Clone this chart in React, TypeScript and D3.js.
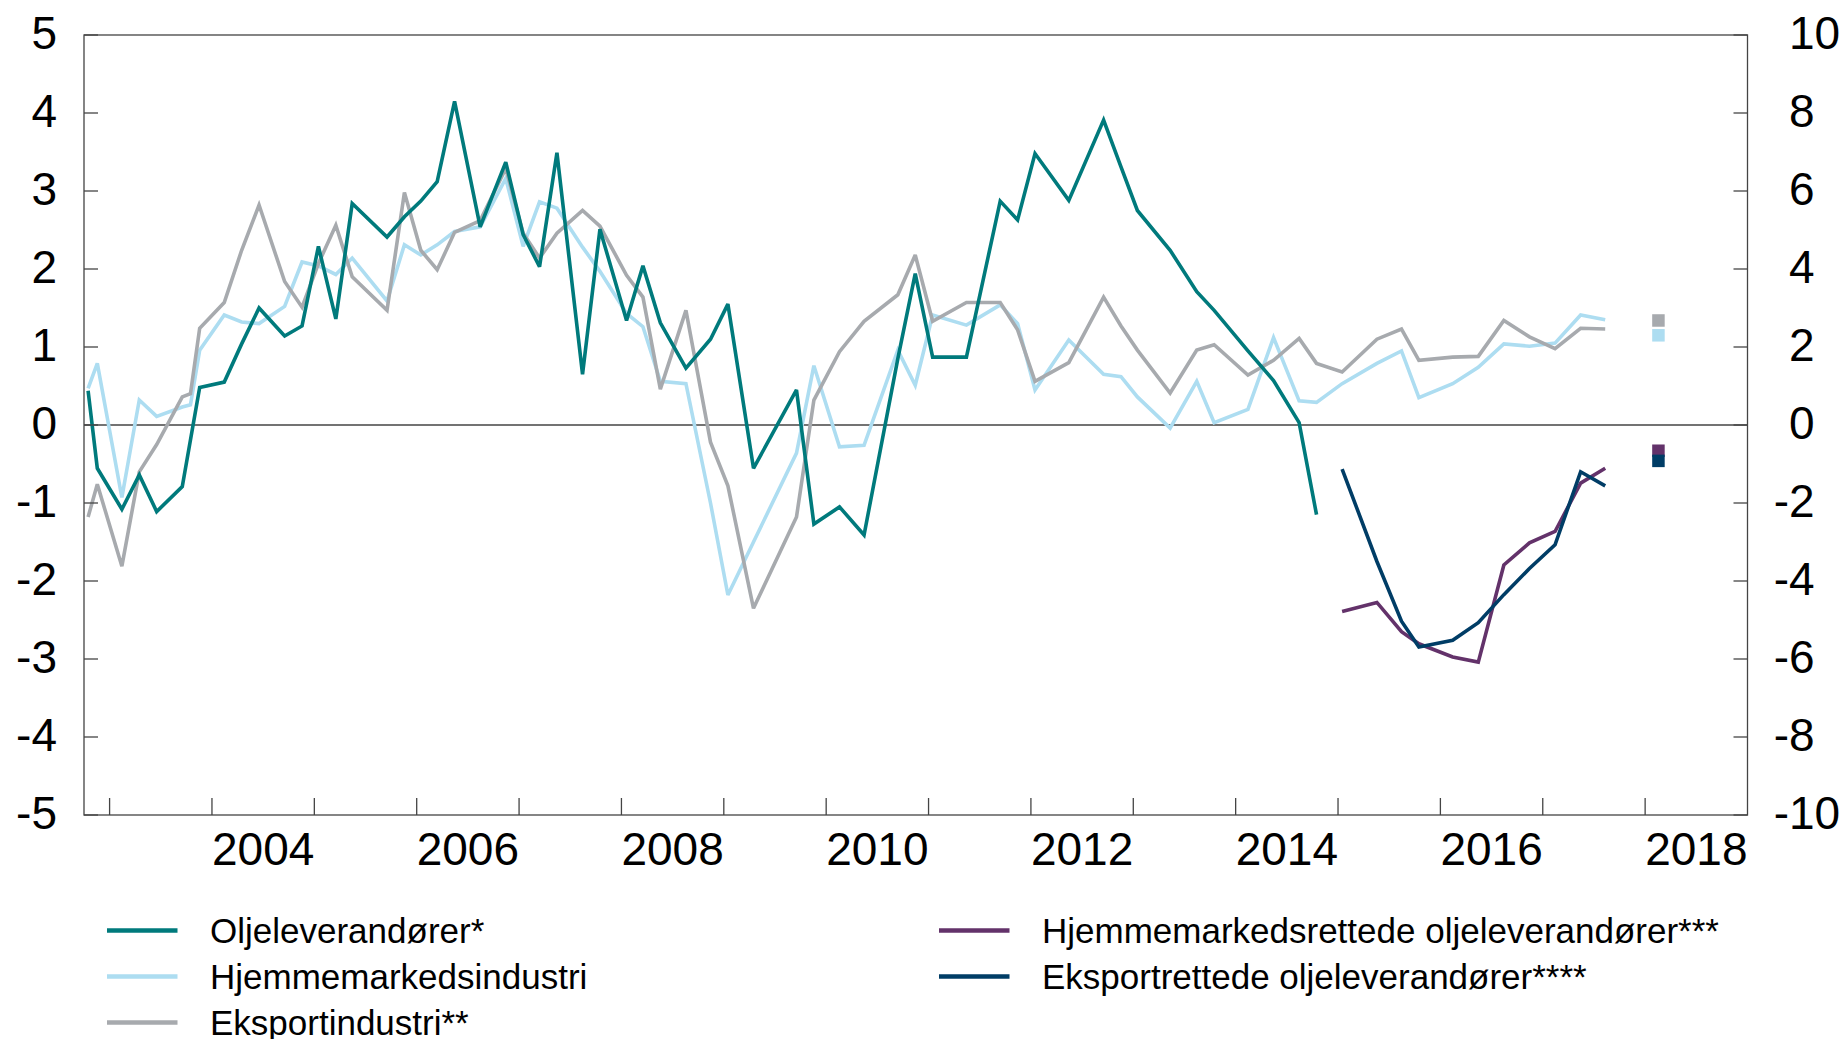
import React from 'react';
import * as d3 from 'd3';

// Survey dates (decimal years)
const dates = [
  2002.79, 2002.88, 2003.12, 2003.29, 2003.46, 2003.71, 2003.79, 2003.88,
  2004.12, 2004.29, 2004.46, 2004.71, 2004.88, 2005.04, 2005.21, 2005.37,
  2005.71, 2005.88, 2006.04, 2006.2, 2006.37, 2006.62, 2006.87, 2007.04,
  2007.2, 2007.37, 2007.62, 2007.79, 2008.05, 2008.21, 2008.38, 2008.63,
  2008.87, 2009.04, 2009.29, 2009.71, 2009.88, 2010.13, 2010.37, 2010.7,
  2010.87, 2011.04, 2011.37, 2011.7, 2011.87, 2012.04, 2012.37, 2012.71,
  2012.88, 2013.04, 2013.36, 2013.62, 2013.79, 2014.12, 2014.37, 2014.62,
  2014.79, 2015.04, 2015.38, 2015.62, 2015.79, 2016.12, 2016.37, 2016.62,
  2016.87, 2017.12, 2017.37, 2017.61,
];

// Left axis series
const oljeleverandorer: (number | null)[] = [
  0.44, -0.555, -1.08, -0.64, -1.11, -0.79, null, 0.48,
  0.55, 1.04, 1.5, 1.14, 1.27, 2.29, 1.36, 2.84,
  2.41, 2.67, 2.87, 3.12, 4.15, 2.54, 3.37, 2.44,
  2.03, 3.49, 0.65, 2.51, 1.34, 2.04, 1.31, 0.73,
  1.1, 1.55, -0.555, 0.45, -1.27, -1.05, -1.41, 0.85,
  1.94, 0.87, 0.87, 2.87, 2.63, 3.48, 2.88, 3.91,
  3.31, 2.75, 2.24, 1.71, 1.47, 0.95, 0.57, 0.03,
  -1.15, null, null, null, null, null, null, null,
  null, null, null, null,
];
const hjemmemarkedsindustri: (number | null)[] = [
  0.47, 0.79, -0.93, 0.32, 0.11, 0.23, 0.26, 0.96,
  1.41, 1.32, 1.3, 1.52, 2.09, 2.04, 1.93, 2.14,
  1.59, 2.31, 2.18, 2.31, 2.48, 2.54, 3.16, 2.29,
  2.86, 2.78, 2.28, 1.97, 1.43, 1.26, 0.56, 0.53,
  -1.0, -2.18, -1.5, -0.36, 0.76, -0.28, -0.26, 0.96,
  0.51, 1.41, 1.28, 1.54, 1.3, 0.45, 1.09, 0.65,
  0.62, 0.36, -0.04, 0.56, 0.03, 0.2, 1.12, 0.31,
  0.29, 0.53, 0.79, 0.95, 0.35, 0.53, 0.74, 1.04,
  1.01, 1.05, 1.41, 1.35,
];
const eksportindustri: (number | null)[] = [
  -1.18, -0.76, -1.81, -0.6, -0.25, 0.36, 0.4, 1.24,
  1.57, 2.24, 2.82, 1.84, 1.51, 2.07, 2.56, 1.9,
  1.47, 2.98, 2.24, 1.99, 2.47, 2.62, 3.29, 2.46,
  2.14, 2.46, 2.75, 2.55, 1.92, 1.64, 0.46, 1.47,
  -0.22, -0.78, -2.35, -1.18, 0.32, 0.94, 1.33, 1.67,
  2.18, 1.33, 1.57, 1.57, 1.22, 0.56, 0.8, 1.64,
  1.27, 0.96, 0.41, 0.96, 1.03, 0.64, 0.83, 1.11,
  0.79, 0.68, 1.1, 1.23, 0.83, 0.87, 0.88, 1.34,
  1.13, 0.98, 1.24, 1.23,
];

// Right axis series (from 2015)
const oilDates = [
  2015.04, 2015.38, 2015.62, 2015.79, 2016.12, 2016.37, 2016.62, 2016.87,
  2017.12, 2017.37, 2017.61,
];
const hjemmemarkedsrettedeOlje = [
  -4.78, -4.55, -5.3, -5.61, -5.95, -6.08, -3.59, -3.02, -2.73, -1.49, -1.11,
];
const eksportrettedeOlje = [
  -1.13, -3.5, -5.03, -5.69, -5.52, -5.07, -4.35, -3.68, -3.07, -1.2, -1.56,
];

// Expectation markers
const markerDate = 2018.13;
const markerLeftValues = [1.34, 1.15]; // Eksportindustri, Hjemmemarkedsindustri
const markerRightValues = [-0.66, -0.92]; // Hjemmemarkedsrettede, Eksportrettede

const leftTicks = [5, 4, 3, 2, 1, 0, -1, -2, -3, -4, -5];
const rightTicks = [10, 8, 6, 4, 2, 0, -2, -4, -6, -8, -10];
const yearTicks = d3.range(2003, 2019);
const yearLabels = [2004, 2006, 2008, 2010, 2012, 2014, 2016, 2018];

const C = {
  teal: '#007A7C',
  light: '#ADDDF1',
  gray: '#A7AAAE',
  purple: '#63326A',
  navy: '#003D66',
  axis: '#444444',
};

const FONT = '"Liberation Sans", Arial, Helvetica, sans-serif';

export default function App() {
  const W = 1847;
  const H = 1039;
  const left = 84;
  const right = 1747.5;
  const top = 35;
  const bottom = 815;

  const x = d3.scaleLinear().domain([2002.75, 2019.0]).range([left, right]);
  const yL = d3.scaleLinear().domain([-5, 5]).range([bottom, top]);
  const yR = d3.scaleLinear().domain([-10, 10]).range([bottom, top]);

  const mk = (vals: (number | null)[], ds: number[], y: d3.ScaleLinear<number, number>) => {
    const pts: [number, number][] = [];
    vals.forEach((v, i) => {
      if (v !== null && v !== undefined) pts.push([x(ds[i]), y(v)]);
    });
    return d3.line()(pts) || '';
  };

  const sw = 3.6;
  const series = [
    { d: mk(hjemmemarkedsindustri, dates, yL), c: C.light },
    { d: mk(eksportindustri, dates, yL), c: C.gray },
    { d: mk(oljeleverandorer, dates, yL), c: C.teal },
    { d: mk(hjemmemarkedsrettedeOlje, oilDates, yR), c: C.purple },
    { d: mk(eksportrettedeOlje, oilDates, yR), c: C.navy },
  ];

  const ms = 12.5;
  const mx = x(markerDate);

  const legendLeft = [
    { label: 'Oljeleverandører*', c: C.teal },
    { label: 'Hjemmemarkedsindustri', c: C.light },
    { label: 'Eksportindustri**', c: C.gray },
  ];
  const legendRight = [
    { label: 'Hjemmemarkedsrettede oljeleverandører***', c: C.purple },
    { label: 'Eksportrettede oljeleverandører****', c: C.navy },
  ];
  const rowY = [930.5, 976.5, 1022.5];

  return (
    <svg
      width={W}
      height={H}
      style={{ position: 'absolute', left: 0, top: 0, background: '#fff' }}
      fontFamily={FONT}
    >
      <rect x={0} y={0} width={W} height={H} fill="#fff" />
      {/* zero line */}
      <line x1={left} x2={right} y1={yL(0)} y2={yL(0)} stroke={C.axis} strokeWidth={1.3} />

      {/* series */}
      {series.map((s, i) => (
        <path key={i} d={s.d} fill="none" stroke={s.c} strokeWidth={sw} strokeLinejoin="miter" strokeMiterlimit={3} />
      ))}

      {/* markers */}
      <rect x={mx - ms / 2} y={yL(markerLeftValues[0]) - ms / 2} width={ms} height={ms} fill={C.gray} />
      <rect x={mx - ms / 2} y={yL(markerLeftValues[1]) - ms / 2} width={ms} height={ms} fill={C.light} />
      <rect x={mx - ms / 2} y={yR(markerRightValues[0]) - ms / 2} width={ms} height={ms} fill={C.purple} />
      <rect x={mx - ms / 2} y={yR(markerRightValues[1]) - ms / 2} width={ms} height={ms} fill={C.navy} />

      {/* frame */}
      <rect x={left} y={top} width={right - left} height={bottom - top} fill="none" stroke={C.axis} strokeWidth={1.3} />

      {/* left ticks & labels */}
      {leftTicks.map((t) => (
        <g key={'l' + t}>
          <line x1={left} x2={left + 14} y1={yL(t)} y2={yL(t)} stroke={C.axis} strokeWidth={1.3} />
          <text x={57} y={yL(t) + 13.5} fontSize={46} textAnchor="end" fill="#000">
            {t}
          </text>
        </g>
      ))}
      {/* right ticks & labels */}
      {rightTicks.map((t) => (
        <g key={'r' + t}>
          <line x1={right - 14} x2={right} y1={yR(t)} y2={yR(t)} stroke={C.axis} strokeWidth={1.3} />
          <text x={t < 0 ? 1789 - 15.3 : 1789} y={yR(t) + 13.5} fontSize={46} textAnchor="start" fill="#000">
            {t}
          </text>
        </g>
      ))}
      {/* x ticks */}
      {yearTicks.map((yr) => (
        <line key={'x' + yr} x1={x(yr)} x2={x(yr)} y1={bottom} y2={bottom - 17} stroke={C.axis} strokeWidth={1.3} />
      ))}
      {yearLabels.map((yr) => (
        <text key={'xl' + yr} x={x(yr + 0.5)} y={865} fontSize={46} textAnchor="middle" fill="#000">
          {yr}
        </text>
      ))}

      {/* legend */}
      {legendLeft.map((l, i) => (
        <g key={'lg' + i}>
          <line x1={107} x2={177.5} y1={rowY[i]} y2={rowY[i]} stroke={l.c} strokeWidth={4.3} />
          <text x={210} y={rowY[i] + 12.5} fontSize={35} fill="#000">
            {l.label}
          </text>
        </g>
      ))}
      {legendRight.map((l, i) => (
        <g key={'lgr' + i}>
          <line x1={939} x2={1009.5} y1={rowY[i]} y2={rowY[i]} stroke={l.c} strokeWidth={4.3} />
          <text x={1042} y={rowY[i] + 12.5} fontSize={35} fill="#000">
            {l.label}
          </text>
        </g>
      ))}
    </svg>
  );
}
